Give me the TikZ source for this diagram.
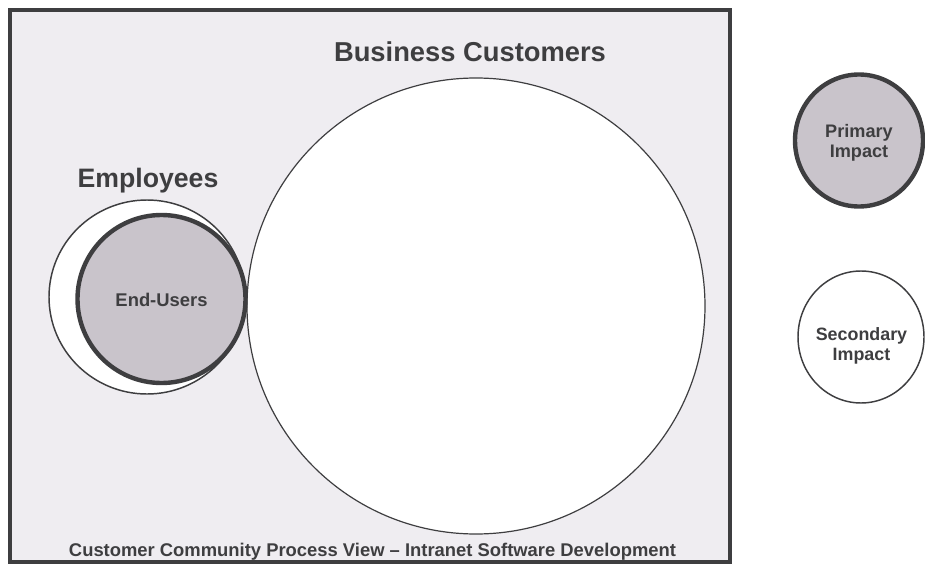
\documentclass[tikz,border=0pt]{standalone}
\usepackage{fontspec}
\setmainfont{Liberation Sans}
\usepackage{tikz}
\usepackage{xcolor}

\definecolor{inkgrey}{RGB}{62,62,64}
\definecolor{paneltone}{RGB}{239,237,241}
\definecolor{impactgrey}{RGB}{201,196,203}

\begin{document}
\begin{tikzpicture}[x=0.75pt,y=0.75pt,yscale=-1,xscale=1]
\useasboundingbox (0,0) rectangle (925,567);

%Shape: Rectangle [frame]
\draw  [draw=inkgrey, line width=3, fill=paneltone] (10,10) rectangle (730,562) ;
%Shape: Ellipse [business customers]
\draw  [draw=inkgrey, line width=0.9, fill=white] (476,306) ellipse [x radius=229, y radius=228] ;
%Shape: Circle [employees]
\draw  [draw=inkgrey, line width=1.1, fill=white] (147,297) ellipse [x radius=98, y radius=97] ;
%Shape: Circle [end-users]
\draw  [draw=inkgrey, line width=3.3, fill=impactgrey] (161.5,299) circle [radius=84] ;
%Shape: Circle [primary impact]
\draw  [draw=inkgrey, line width=3.3, fill=impactgrey] (859,140.5) ellipse [x radius=64, y radius=66] ;
%Shape: Circle [secondary impact]
\draw  [draw=inkgrey, line width=1.1, fill=white] (861,337) ellipse [x radius=63, y radius=66] ;

% Text Node
\draw (470,62) node [anchor=base, inner sep=0pt, text=inkgrey, font=\fontsize{20.5}{24}\bfseries] (busLabel) {Business Customers};
% Text Node
\draw (148,187) node [anchor=base, inner sep=0pt, text=inkgrey, font=\fontsize{20}{24}\bfseries] (empLabel) {Employees};
% Text Node
\draw (161.5,306) node [anchor=base, inner sep=0pt, text=inkgrey, font=\fontsize{13.8}{16}\bfseries] (endLabel) {End-Users};
% Text Node
\draw (859,143) node [inner sep=0pt, text=inkgrey, font=\fontsize{13.6}{15.2}\bfseries, align=center] (primLabel) {Primary\\Impact};
% Text Node
\draw (861.5,346) node [inner sep=0pt, text=inkgrey, font=\fontsize{13.4}{15.2}\bfseries, align=center] (secLabel) {Secondary\\Impact};
% Text Node
\draw (372.5,556) node [anchor=base, inner sep=0pt, text=inkgrey, font=\fontsize{13.8}{16}\bfseries] (capLabel) {Customer Community Process View – Intranet Software Development};
\end{tikzpicture}
\end{document}
